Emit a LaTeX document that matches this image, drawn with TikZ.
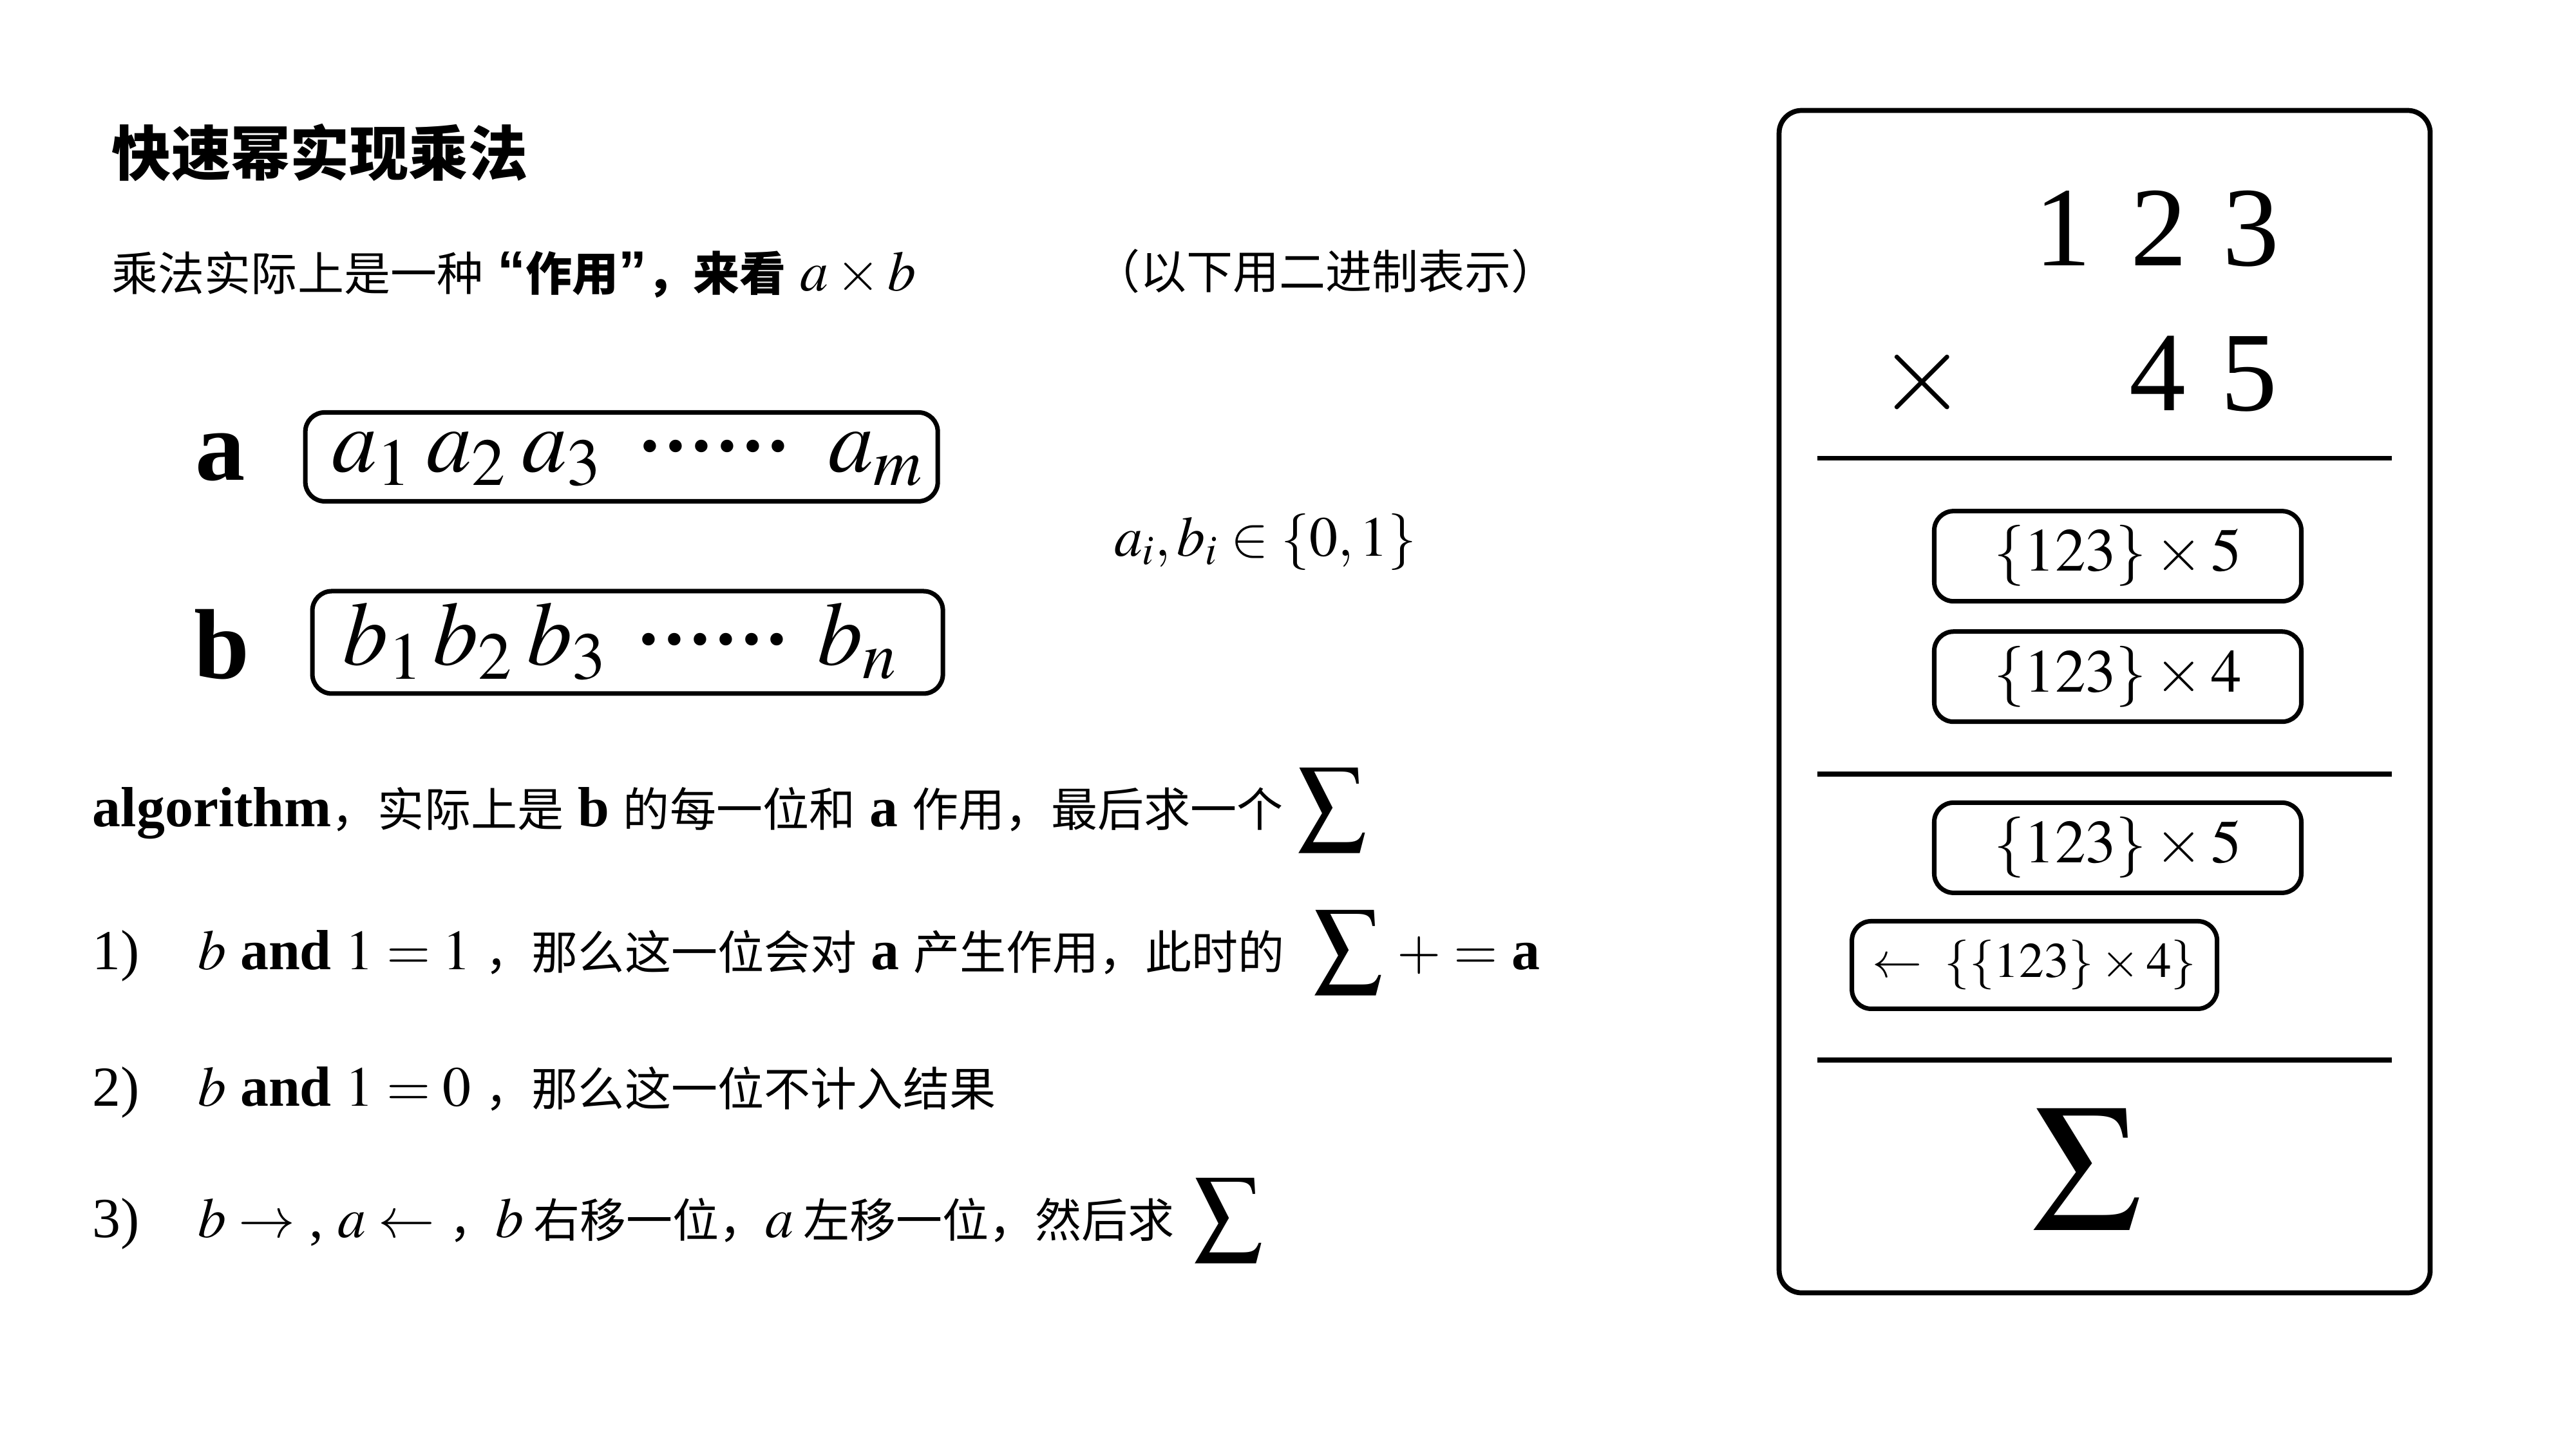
\documentclass[tikz,border=0pt]{standalone}
\usepackage{mathptmx}
\usepackage{fontspec}
\setmainfont{Liberation Serif}
\newfontfamily\cjk{Noto Sans CJK SC}[Scale=0.82]
\newfontfamily\qfont{Liberation Sans}
\newcommand{\zh}[1]{{\cjk #1}}
\newcommand{\dotrow}{\mbox{\fontsize{34}{40}\selectfont\bfseries ······}}
\newcommand{\bigsum}{{\fontsize{30}{36}\selectfont$\displaystyle\sum$}}

\tikzset{
  every node/.style={inner sep=0pt},
  txt/.style={anchor=base west, font=\fontsize{25}{30}\selectfont},
  bitbox/.style={draw, line width=2pt, rounded corners=0.3cm},
  bit/.style={anchor=base, font=\fontsize{40}{48}\selectfont},
  digit/.style={anchor=base, font=\fontsize{50}{60}\selectfont},
  partbox/.style={draw, line width=2pt, rounded corners=0.3cm, minimum height=1.4cm, font=\fontsize{27}{32}\selectfont},
  rule/.style={line width=2.2pt},
}

\begin{document}
\begin{tikzpicture}
\useasboundingbox (0,0) rectangle (40,-22.5);
\begin{scope}[scale=0.995]

% Title and intro
\node[anchor=west, font=\fontsize{32}{38}\selectfont\bfseries] (title) at (1.74,-2.38) {\zh{快速幂实现乘法}};
\node[anchor=west, font=\fontsize{25}{30}\selectfont] (intro) at (1.74,-4.28) {\zh{乘法实际上是一种} {\qfont\bfseries “}\zh{\textbf{作用}}{\qfont\bfseries ”}\zh{\textbf{，来看}} $a\times b$};
\node[anchor=west, font=\fontsize{25}{30}\selectfont] (note) at (17.06,-4.23) {\zh{（以下用二进制表示）}};

% Bit strings a and b
\node[anchor=base, font=\fontsize{44}{50}\selectfont\bfseries] (laba) at (3.44,-7.49) {a};
\node[anchor=base, font=\fontsize{44}{50}\selectfont\bfseries] (labb) at (3.46,-10.59) {b};
\node[bitbox, minimum width=9.82cm, minimum height=1.38cm] (boxa) at (9.70,-7.13) {};
\node[bitbox, minimum width=9.79cm, minimum height=1.59cm] (boxb) at (9.795,-10.025) {};
\foreach \x/\t [count=\i] in {5.80/a_1, 7.28/a_2, 8.77/a_3, 11.15/\dotrow, 13.67/a_m}
  \node[bit] (a\i) at (\x,-7.36) {$\t$};
\foreach \x/\t [count=\i] in {5.98/b_1, 7.38/b_2, 8.85/b_3, 11.13/\dotrow, 13.38/b_n}
  \node[bit] (b\i) at (\x,-10.38) {$\t$};
\node[anchor=west, font=\fontsize{25}{30}\selectfont] (range) at (17.38,-8.46) {$a_i, b_i \in \{0,1\}$};

% Algorithm steps
\node[txt] (algo) at (1.44,-12.90) {\textbf{algorithm}\zh{，实际上是} \textbf{b} \zh{的每一位和} \textbf{a} \zh{作用，最后求一个} \bigsum};
\node[txt] (step1) at (1.44,-15.13) {1)\hspace{0.9cm}$b$ \textbf{and} $1=1$ \zh{，那么这一位会对} \textbf{a} \zh{产生作用，此时的}\hspace{0.45cm}\bigsum\ $+ =$ \textbf{a}};
\node[txt] (step2) at (1.44,-17.26) {2)\hspace{0.9cm}$b$ \textbf{and} $1=0$ \zh{，那么这一位不计入结果}};
\node[txt] (step3) at (1.44,-19.31) {3)\hspace{0.9cm}$b\rightarrow$ , $a\leftarrow$ \zh{，}$b$\,\zh{右移一位，}$a$\,\zh{左移一位，然后求}\hspace{0.3cm}\bigsum};

% Worked example 123 x 45
\node[draw, line width=2.2pt, rounded corners=0.35cm, minimum width=10.11cm, minimum height=18.36cm] (panel) at (32.845,-10.95) {};
\foreach \x/\d [count=\i] in {32.2/1, 33.69/2, 35.13/3}
  \node[digit] (top\i) at (\x,-4.15) {\d};
\foreach \x/\d [count=\i] in {30.0/$\times$, 33.67/4, 35.10/5}
  \node[digit] (low\i) at (\x,-6.41) {\d};
\draw[rule] (28.36,-7.15) -- (37.33,-7.15);
\node[partbox, minimum width=5.7cm] (part1) at (33.05,-8.68) {$\{123\}\times 5$};
\node[partbox, minimum width=5.7cm] (part2) at (33.05,-10.56) {$\{123\}\times 4$};
\draw[rule] (28.36,-12.08) -- (37.33,-12.08);
\node[partbox, minimum width=5.7cm] (part3) at (33.05,-13.23) {$\{123\}\times 5$};
\node[partbox, minimum width=5.67cm, minimum height=1.36cm, font=\fontsize{22}{27}\selectfont] (part4) at (31.75,-15.06) {$\leftarrow\;\{\{123\}\times 4\}$};
\draw[rule] (28.36,-16.54) -- (37.33,-16.54);
\node[font=\fontsize{80}{90}\selectfont] (total) at (32.56,-18.26) {$\Sigma$};

\end{scope}
\end{tikzpicture}
\end{document}
